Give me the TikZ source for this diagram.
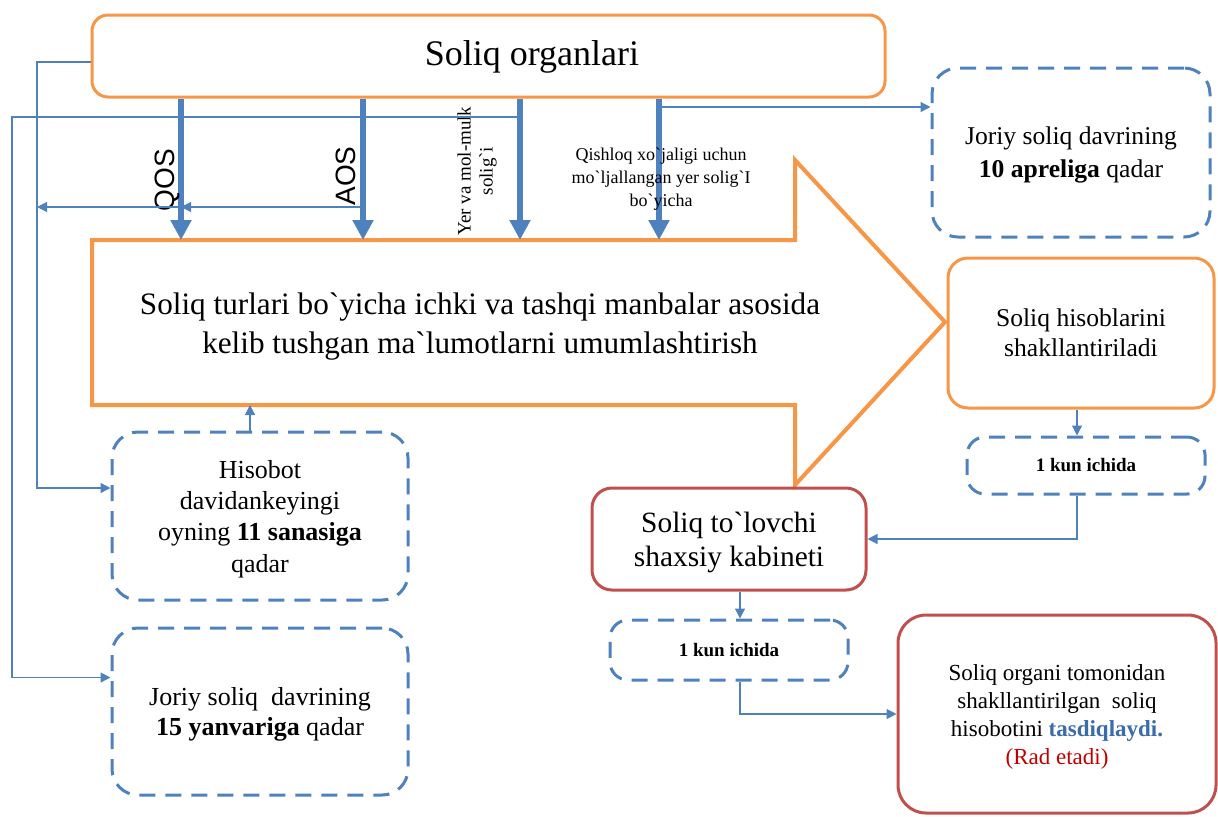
\documentclass[tikz,border=0pt]{standalone}
\usepackage{fontspec}
\setmainfont{Liberation Serif}
\newfontfamily\arialf{Liberation Sans}
\usetikzlibrary{arrows.meta}
\definecolor{orng}{HTML}{F79646}
\definecolor{blu}{HTML}{4F81BD}
\definecolor{rd}{HTML}{C0504D}
\definecolor{tblue}{HTML}{3B6BAA}
\definecolor{tred}{HTML}{C00000}
\newcommand\gq{\textasciigrave}
\newcommand\fs[2]{\fontsize{#1}{#2}\selectfont}
\begin{document}
\begin{tikzpicture}[x=0.5pt,y=-0.5pt,
 obox/.style={draw=orng,line width=1.5pt,rounded corners=10pt,align=center,inner sep=0pt,fill=white},
 dbox/.style={draw=blu,line width=1.5pt,dash pattern=on 8pt off 5pt,rounded corners=13pt,align=center,inner sep=0pt},
 rbox/.style={draw=rd,line width=1.5pt,rounded corners=10pt,align=center,inner sep=0pt},
 conn/.style={draw=blu,line width=0.6pt,-{Triangle[length=5pt,width=5pt]}},
 bigarr/.style={draw=blu,line width=3pt,-{Triangle[length=10pt,width=10pt]}},
 lbl/.style={inner sep=0pt,align=center}]
\useasboundingbox (0,0) rectangle (1218,816);

% big arrow
\coordinate (A1) at (92,240);
\coordinate (A2) at (795,240);
\coordinate (A3) at (795,160);
\coordinate (A4) at (945,322);
\coordinate (A5) at (795,485);
\coordinate (A6) at (795,405);
\coordinate (A7) at (92,405);
\draw[orng,line width=2pt,line join=miter] (A1) -- (A2) -- (A3) -- (A4) -- (A5) -- (A6) -- (A7) -- cycle;
\node[lbl,font=\fs{15.6}{19.5}] (body) at (480,327)
 {Soliq turlari bo\gq{}yicha ichki va tashqi manbalar asosida\\kelib tushgan ma\gq{}lumotlarni umumlashtirish};

% top box
\node[obox,rounded corners=8pt,minimum width=396.5pt,minimum height=41pt] (top) at (488.5,56) {};
\node[lbl,font=\fs{18}{20}] (title) at (532,57) {Soliq organlari};

% boxes
\node[dbox,minimum width=139pt,minimum height=84.5pt] (apr) at (1071,152.5) {};
\node[lbl,font=\fs{12.8}{16.5}] (aprt) at (1071,155)
 {Joriy soliq davrining\\\textbf{10 apreliga} qadar};
\node[obox,minimum width=133pt,minimum height=75pt,font=\fs{12.8}{15}] (hisob) at (1081,333)
 {Soliq hisoblarini\\shakllantiriladi};
\node[dbox,rounded corners=9pt,minimum width=119pt,minimum height=28.5pt,font=\bfseries\fs{9.5}{11}] (kun1) at (1086,465.5)
 {1 kun ichida};
\node[rbox,minimum width=137pt,minimum height=51pt] (kab) at (729,539) {};
\node[lbl,font=\fs{14.7}{17}] (kabt) at (729,542) {Soliq to\gq{}lovchi\\shaxsiy kabineti};
\node[dbox,rounded corners=9pt,minimum width=119pt,minimum height=30pt,font=\bfseries\fs{9.5}{11}] (kun2) at (729,650)
 {1 kun ichida};
\node[rbox,rounded corners=14pt,minimum width=159pt,minimum height=99pt] (fin) at (1057,714) {};
\node[lbl,font=\fs{11.5}{14}] (fint) at (1057,717)
 {Soliq organi tomonidan\\shakllantirilgan~ soliq\\hisobotini \textcolor{tblue}{\textbf{tasdiqlaydi.}}\\\textcolor{tred}{(Rad etadi)}};
\node[dbox,minimum width=148pt,minimum height=84pt] (hisobot) at (260,516) {};
\node[lbl,font=\fs{13}{15.6}] (hisobott) at (260,519)
 {Hisobot\\davidankeyingi\\oyning \textbf{11 sanasiga}\\qadar};
\node[dbox,minimum width=148pt,minimum height=83.5pt] (yanv) at (260,711.5) {};
\node[lbl,font=\fs{13}{15}] (yanvt) at (260,714.5)
 {Joriy soliq~ davrining\\\textbf{15 yanvariga} qadar};

% thick arrows
\coordinate (b1) at (181,240);
\coordinate (b2) at (363,240);
\coordinate (b3) at (520,240);
\coordinate (b4) at (659,240);
\draw[bigarr] (top.south -| b1) -- (b1);
\draw[bigarr] (top.south -| b2) -- (b2);
\draw[bigarr] (top.south -| b3) -- (b3);
\draw[bigarr] (top.south -| b4) -- (b4);

% labels of thick arrows
\node[lbl,rotate=90,font=\arialf\fs{14}{14}] (lq) at (167,180) {QOS};
\node[lbl,rotate=90,font=\arialf\fs{14}{14}] (la) at (346,176) {AOS};
\node[lbl,rotate=90,font=\fs{9.5}{11}] (ly) at (477,171) {Yer va mol-mulk\\solig\gq{}i};
\node[lbl,font=\fs{9}{11.5}] (lx) at (661,179) {Qishloq xo\gq{}jaligi uchun\\mo\gq{}ljallangan yer solig\gq{}I\\bo\gq{}yicha};

% thin connectors
\coordinate (L1) at (37,62);
\draw[conn] ([yshift=-3pt]top.west) -- (L1) |- ([yshift=14pt]hisobot.west);
\coordinate (p3) at (520,117);
\coordinate (L2) at (12,117);
\draw[conn] (p3) -- (L2) |- ([yshift=17pt]yanv.west);
\coordinate (c2) at (363,207);
\coordinate (c1) at (181,207);
\coordinate (c0) at (37,207);
\draw[conn] (c2) -- (c1);
\draw[conn] (c1) -- (c0);
\coordinate (p4) at (659,107);
\draw[conn] (p4) -- (p4 -| apr.west);
\coordinate (bb) at (250,405);
\draw[conn] (hisobot.north -| bb) -- (bb);
\coordinate (h1) at (1077,0);
\draw[conn] (hisob.south -| h1) -- (kun1.north -| h1);
\draw[conn] (kun1.south -| h1) |- (kab.east);
\coordinate (k1) at (740,0);
\draw[conn] (kab.south -| k1) -- (kun2.north -| k1);
\draw[conn] (kun2.south -| k1) |- (fin.west);
\end{tikzpicture}
\end{document}
